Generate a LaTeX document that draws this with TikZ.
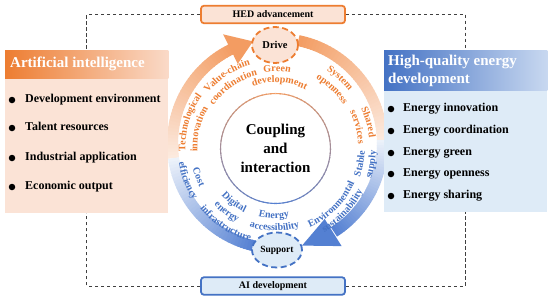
\documentclass[tikz,border=0pt]{standalone}
\usepackage{fontspec}
\setmainfont{Liberation Serif}
\usetikzlibrary{decorations.text,calc,shapes.geometric}

\definecolor{OrD}{RGB}{243,156,98}
\definecolor{OrL}{RGB}{252,235,224}
\definecolor{BlD}{RGB}{84,128,210}
\definecolor{BlL}{RGB}{238,243,251}
\definecolor{OrTxt}{RGB}{237,125,49}
\definecolor{BlTxt}{RGB}{68,114,196}
\definecolor{OrBorder}{RGB}{237,125,49}
\definecolor{BlBorder}{RGB}{68,114,196}
\definecolor{PeachBody}{RGB}{251,227,214}
\definecolor{BlueBody}{RGB}{222,235,247}
\definecolor{OrHead}{RGB}{237,125,49}
\definecolor{OrHeadR}{RGB}{250,218,200}
\definecolor{BlHead}{RGB}{68,114,196}
\definecolor{BlHeadR}{RGB}{200,216,240}
\definecolor{DashGray}{RGB}{64,64,64}

% gradient arc: center, radius, width, start angle, end angle, start colour, end colour
\newcommand{\gradarc}[7]{%
  \foreach \k in {0,...,39}{%
    \pgfmathsetmacro{\gaA}{#4+(#5-#4)*\k/40}%
    \pgfmathsetmacro{\gaB}{#4+(#5-#4)*(\k+1.3)/40}%
    \pgfmathsetmacro{\gaP}{100*(\k+0.5)/40}%
    \draw[line width=#3, color=#7!\gaP!#6] ($(#1)+(\gaA:#2)$) arc[start angle=\gaA, end angle=\gaB, radius=#2];
  }%
}
\newcommand{\labfont}{\bfseries\fontsize{10}{12}\selectfont}
% top label: colour, text-mid radius, angle, text
\newcommand{\toplab}[4]{%
  \pgfmathsetmacro{\rbase}{#2-3.3}%
  \path[decorate, decoration={text along path, text align=center, text color=#1, text={|\labfont|#4}}]
    ($(L)+(#3+60:\rbase)$) arc[start angle=#3+60, end angle=#3-60, radius=\rbase];
}
\newcommand{\botlab}[4]{%
  \pgfmathsetmacro{\rbase}{#2+3.3}%
  \path[decorate, decoration={text along path, text align=center, text color=#1, text={|\labfont|#4}}]
    ($(L)+(#3-60:\rbase)$) arc[start angle=#3-60, end angle=#3+60, radius=\rbase];
}

\begin{document}
\begin{tikzpicture}[x=1pt,y=1pt,
  dashc/.style={draw=DashGray, line width=1pt, dash pattern=on 3.5pt off 2.5pt},
  bul/.style={circle, fill=black, inner sep=0pt, minimum size=6.5pt},
  itemtxt/.style={anchor=west, inner sep=0pt, font=\bfseries\fontsize{12}{14}\selectfont, text height=8pt, text depth=2.5pt},
  headtxt/.style={text=white, inner sep=0pt, font=\bfseries\fontsize{15}{18}\selectfont},
  smallbox/.style={line width=1.8pt, rounded corners=3pt, minimum width=144pt, minimum height=17.5pt, inner sep=0pt, font=\bfseries\fontsize{10}{12}\selectfont},
  dashell/.style={ellipse, line width=1.8pt, dash pattern=on 6pt off 3.5pt, inner sep=0pt},
  ]
\useasboundingbox (0,0) rectangle (550,301);
\fill[white] (0,0) rectangle (550,301);
\coordinate (C) at (277.5,157.5);
\coordinate (L) at (275,153);
\coordinate (I) at (275.5,152.5);

% ring
\gradarc{C}{105}{11pt}{188}{115}{OrL}{OrD}
\gradarc{C}{105}{11pt}{2}{78}{OrL}{OrD}
\gradarc{C}{105}{11pt}{188}{257}{BlL}{BlD}
\gradarc{C}{105}{11pt}{2}{-57}{BlL}{BlD}
\fill[OrD] ($(C)+(116.5:89)$) -- ($(C)+(116.5:122)$) -- ($(C)+(103.5:105)$) -- cycle;
\fill[BlD] ($(C)+(-58:89)$) -- ($(C)+(-58:121)$) -- ($(C)+(-76.5:105)$) -- cycle;

% labels
\toplab{OrTxt}{93}{163.5}{Technological}
\toplab{OrTxt}{81}{166}{innovation}
\toplab{OrTxt}{90}{123.5}{Value-chain}
\toplab{OrTxt}{78}{124.5}{coordination}
\toplab{OrTxt}{80}{88.5}{Green}
\toplab{OrTxt}{69}{86}{development}
\toplab{OrTxt}{96.5}{47}{System}
\toplab{OrTxt}{84}{46}{openness}
\toplab{OrTxt}{98}{15.5}{Shared}
\toplab{OrTxt}{86.5}{14.3}{services}
\botlab{BlTxt}{81.5}{200.8}{Cost}
\botlab{BlTxt}{94}{200.5}{efficiency}
\botlab{BlTxt}{68}{233}{Digital}
\botlab{BlTxt}{80}{233}{energy}
\botlab{BlTxt}{93}{237}{infrastructure}
\botlab{BlTxt}{67}{269}{Energy}
\botlab{BlTxt}{79.5}{269.6}{accessibility}
\botlab{BlTxt}{83.5}{315}{Environmental}
\botlab{BlTxt}{94.5}{317}{sustainability}
\botlab{BlTxt}{86.5}{349.5}{Stable}
\botlab{BlTxt}{97.5}{350.3}{supply}

% inner circle
\gradarc{I}{55}{1.1pt}{90}{270}{OrD}{BlD}
\gradarc{I}{55}{1.1pt}{90}{-90}{OrD}{BlD}
\node[align=center, inner sep=0pt, font=\bfseries\fontsize{15}{19}\selectfont] (core) at (I) {Coupling\\and\\interaction};

% drive / support
\node[dashell, draw=OrBorder, fill=PeachBody, minimum width=46pt, minimum height=36pt, font=\bfseries\fontsize{10.5}{12}\selectfont] (drive) at (275,256) {Drive};
\node[dashell, draw=BlBorder, fill=BlueBody, minimum width=50pt, minimum height=35pt, font=\bfseries\fontsize{9.5}{12}\selectfont] (support) at (277,51) {Support};

% left box
\node[fill=PeachBody, minimum width=163pt, minimum height=163pt, inner sep=0pt, anchor=north west] (lbox) at (5,251) {};
\shade[left color=OrHead, right color=OrHeadR] (lbox.north west) rectangle ($(lbox.north east)+(0,-28)$);
\node[headtxt, anchor=west] (lhead) at (10,237) {Artificial intelligence};
\node[bul] (lb1) at (12,201) {};
\node[itemtxt] (lt1) at (25,201) {Development environment};
\node[bul] (lb2) at (12,173) {};
\node[itemtxt] (lt2) at (25,173) {Talent resources};
\node[bul] (lb3) at (12,143) {};
\node[itemtxt] (lt3) at (25,143) {Industrial application};
\node[bul] (lb4) at (12,114) {};
\node[itemtxt] (lt4) at (25,114) {Economic output};

% right box
\node[fill=BlueBody, minimum width=163pt, minimum height=162pt, inner sep=0pt, anchor=north west] (rbox) at (384,251) {};
\shade[left color=BlHead, right color=BlHeadR] (rbox.north west) rectangle ($(rbox.north east)+(0,-40)$);
\node[headtxt, anchor=west, align=left] (rhead) at (388,230.5) {High-quality energy\\development};
\node[bul] (rb1) at (391,192) {};
\node[itemtxt] (rt1) at (403,192) {Energy innovation};
\node[bul] (rb2) at (391,170) {};
\node[itemtxt] (rt2) at (403,170) {Energy coordination};
\node[bul] (rb3) at (391,148) {};
\node[itemtxt] (rt3) at (403,148) {Energy green};
\node[bul] (rb4) at (391,127) {};
\node[itemtxt] (rt4) at (403,127) {Energy openness};
\node[bul] (rb5) at (391,105) {};
\node[itemtxt] (rt5) at (403,105) {Energy sharing};

% top / bottom boxes
\node[smallbox, draw=OrBorder, fill=PeachBody] (hed) at (273,286.5) {HED advancement};
\node[smallbox, draw=BlBorder, fill=BlueBody] (aid) at (273,15) {AI development};

% connectors
\draw[dashc] (hed.west) -| (lbox.north);
\draw[dashc] (hed.east) -| (rbox.north);
\draw[dashc] (aid.west) -| (lbox.south);
\draw[dashc] (aid.east) -| (rbox.south);
\end{tikzpicture}
\end{document}
